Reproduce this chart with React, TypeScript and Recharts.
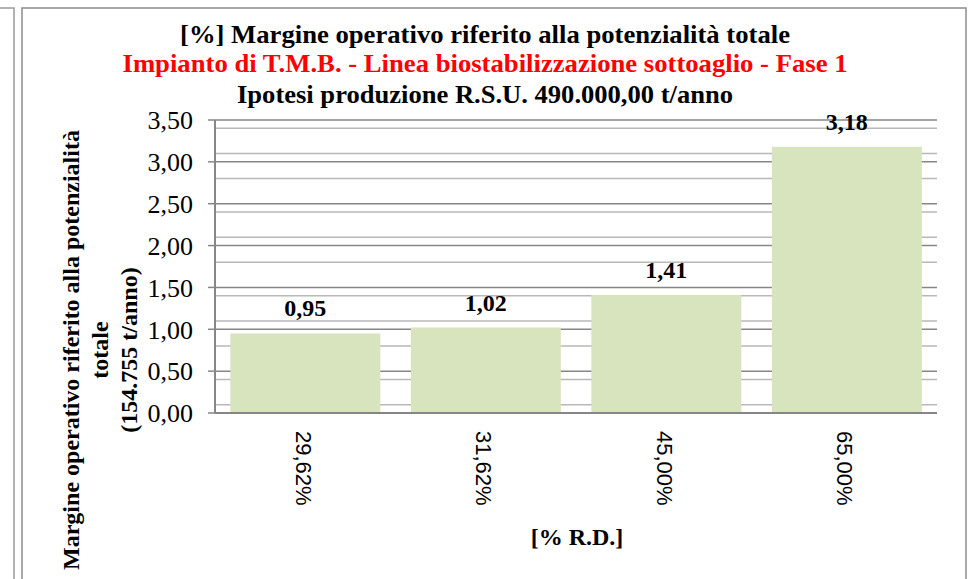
import { Bar, BarChart, CartesianGrid, LabelList, XAxis, YAxis } from 'recharts'

const categories = ['29,62%', '31,62%', '45,00%', '65,00%']
const margins = [0.95, 1.02, 1.41, 3.18]
const yTicks = [0, 0.5, 1, 1.5, 2, 2.5, 3, 3.5]
const minorTicks = [
  0.1, 0.2, 0.3, 0.4, 0.6, 0.7, 0.8, 0.9, 1.1, 1.2, 1.3, 1.4, 1.6, 1.7, 1.8, 1.9,
  2.1, 2.2, 2.3, 2.4, 2.6, 2.7, 2.8, 2.9, 3.1, 3.2, 3.3, 3.4,
]

const titleLines = [
  '[%] Margine operativo riferito alla potenzialità totale',
  'Impianto di T.M.B. - Linea biostabilizzazione sottoaglio - Fase 1',
  'Ipotesi produzione R.S.U. 490.000,00 t/anno',
]
const yLabelLines = ['Margine operativo riferito alla potenzialità', 'totale', '(154.755 t/anno)']
const xLabel = '[% R.D.]'

const data = categories.map((rd, i) => ({ rd, value: margins[i] }))

const serif = '"Liberation Serif", "Times New Roman", serif'
const comma = (v: number) => Number(v).toFixed(2).replace('.', ',')

function RotatedTick({ x, y, payload }: any) {
  return (
    <text
      transform={`translate(${x - 2},${y + 10}) rotate(90)`}
      textAnchor="start"
      dominantBaseline="central"
      fontFamily='"Liberation Sans", Arial, sans-serif'
      fontSize={22}
      fill="#000"
    >
      {payload.value}
    </text>
  )
}

export default function App() {
  return (
    <div style={{ position: 'absolute', left: 0, top: 0, width: 979, height: 579, background: '#fff' }}>
      <svg width={979} height={579} style={{ position: 'absolute', left: 0, top: 0 }}>
        <path d="M0 8 H14 V579" fill="none" stroke="#9a9a9a" strokeWidth={1.5} />
        <rect x={22} y={8} width={944} height={600} fill="none" stroke="#8c8c8c" strokeWidth={1.5} />
        <g fontFamily={serif} fontWeight="bold" textAnchor="middle">
          <text x={485} y={43} fontSize={25} fill="#000" textLength={610} lengthAdjust="spacingAndGlyphs">
            {titleLines[0]}
          </text>
          <text x={485} y={72} fontSize={25} fill="#ff0000" textLength={725} lengthAdjust="spacingAndGlyphs">
            {titleLines[1]}
          </text>
          <text x={485} y={103} fontSize={25} fill="#000" textLength={496} lengthAdjust="spacingAndGlyphs">
            {titleLines[2]}
          </text>
          <text x={577} y={545} fontSize={24} fill="#000">{xLabel}</text>
          {yLabelLines.map((line, i) => (
            <text
              key={line}
              transform={`translate(${71 + i * 29},350) rotate(-90)`}
              dominantBaseline="central"
              fontSize={24}
              fill="#000"
            >
              {line}
            </text>
          ))}
        </g>
      </svg>
      <div style={{ position: 'absolute', left: 0, top: 0 }}>
        <BarChart
          width={979}
          height={579}
          data={data}
          margin={{ top: 120, right: 42, bottom: 0, left: 0 }}
          barCategoryGap="8.5%"
        >
          <CartesianGrid vertical={false} horizontalValues={minorTicks} stroke="#b8b8b8" strokeWidth={1.5} />
          <CartesianGrid vertical={false} horizontalValues={yTicks} stroke="#868686" strokeWidth={1.5} />
          <XAxis
            dataKey="rd"
            height={166}
            axisLine={{ stroke: '#868686', strokeWidth: 2 }}
            tickLine={false}
            tick={<RotatedTick />}
            interval={0}
          />
          <YAxis
            width={215}
            domain={[0, 3.5]}
            ticks={yTicks}
            tickFormatter={comma}
            axisLine={{ stroke: '#868686', strokeWidth: 2 }}
            tickLine={{ stroke: '#868686', strokeWidth: 1.5 }}
            tickSize={7}
            tickMargin={15}
            tick={{ fontFamily: serif, fontSize: 26, fill: '#000' }}
          />
          <Bar dataKey="value" fill="#d7e4bd" isAnimationActive={false}>
            <LabelList
              dataKey="value"
              position="top"
              offset={17}
              formatter={(v: any) => comma(v)}
              style={{ fontFamily: serif, fontWeight: 'bold', fontSize: 24, fill: '#000' }}
            />
          </Bar>
        </BarChart>
      </div>
    </div>
  )
}
